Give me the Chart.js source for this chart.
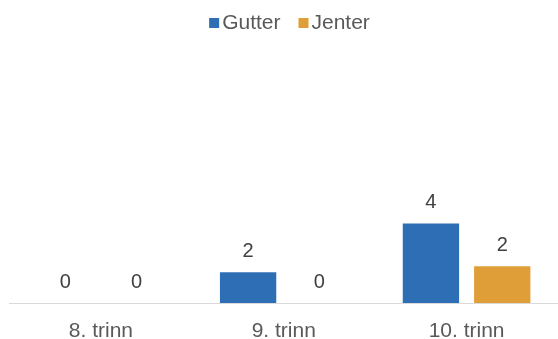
<!DOCTYPE html>
<html>
<head>
<meta charset="utf-8">
<script src="https://cdn.jsdelivr.net/npm/chart.js@4"></script>
<style>
  html, body { margin: 0; padding: 0; background: #fff; }
  #wrap { width: 558px; height: 339px; }
</style>
</head>
<body>
<div id="wrap"><canvas id="myChart" width="558" height="339"></canvas></div>
<script>
const trinn = ['8. trinn', '9. trinn', '10. trinn']
const gutter = [0, 1.55, 4.0]
const jenter = [0, 0, 1.85]

const skrift = '"Liberation Sans", Arial, sans-serif'

// tegner tallene over søylene
const verdiEtiketter = {
    id: 'verdiEtiketter',
    afterDatasetsDraw(chart) {
        const ctx = chart.ctx
        ctx.save()
        ctx.font = '20px ' + skrift
        ctx.fillStyle = '#404040'
        ctx.textAlign = 'center'
        ctx.textBaseline = 'middle'
        chart.data.datasets.forEach((ds, i) => {
            chart.getDatasetMeta(i).data.forEach((bar, j) => {
                ctx.fillText(Math.round(ds.data[j]), bar.x, bar.y - 21)
            })
        })
        ctx.restore()
    }
}

// egen forklaring, tett mellom rute og tekst som i Excel
const forklaring = {
    id: 'forklaring',
    afterDraw(chart) {
        const ctx = chart.ctx
        ctx.save()
        ctx.font = '21px ' + skrift
        ctx.textBaseline = 'middle'
        const ds = chart.data.datasets
        const bredder = ds.map(d => 13 + ctx.measureText(d.label).width)
        const total = bredder.reduce((a, b) => a + b, 0) + 18 * (ds.length - 1)
        let x = 289.5 - total / 2
        const y = 23
        ds.forEach((d, i) => {
            ctx.fillStyle = d.backgroundColor
            ctx.fillRect(x, y - 5, 10, 10)
            ctx.fillStyle = '#595959'
            ctx.fillText(d.label, x + 13, y)
            x += bredder[i] + 18
        })
        ctx.restore()
    }
}

const data = {
    labels: trinn,
    datasets: [{
        label: 'Gutter',
        backgroundColor: '#2E6EB5',
        data: gutter,
    }, {
        label: 'Jenter',
        backgroundColor: '#E09E38',
        data: jenter,
    }]
}

const config = {
    type: 'bar',
    data: data,
    options: {
        responsive: false,
        animation: false,
        layout: { padding: { left: 9.5, right: -4, top: 47, bottom: -21 } },
        categoryPercentage: 0.78,
        barPercentage: 0.79,
        plugins: {
            legend: { display: false },
            tooltip: { enabled: false }
        },
        scales: {
            x: {
                grid: { display: false, drawTicks: false },
                border: { color: '#D9D9D9', width: 1 },
                ticks: {
                    color: '#595959',
                    padding: 18,
                    font: { size: 21, family: skrift, lineHeight: 1 }
                }
            },
            y: {
                display: false,
                min: 0,
                max: 12.9
            }
        }
    },
    plugins: [verdiEtiketter, forklaring]
}

new Chart(document.getElementById('myChart'), config)
</script>
</body>
</html>
